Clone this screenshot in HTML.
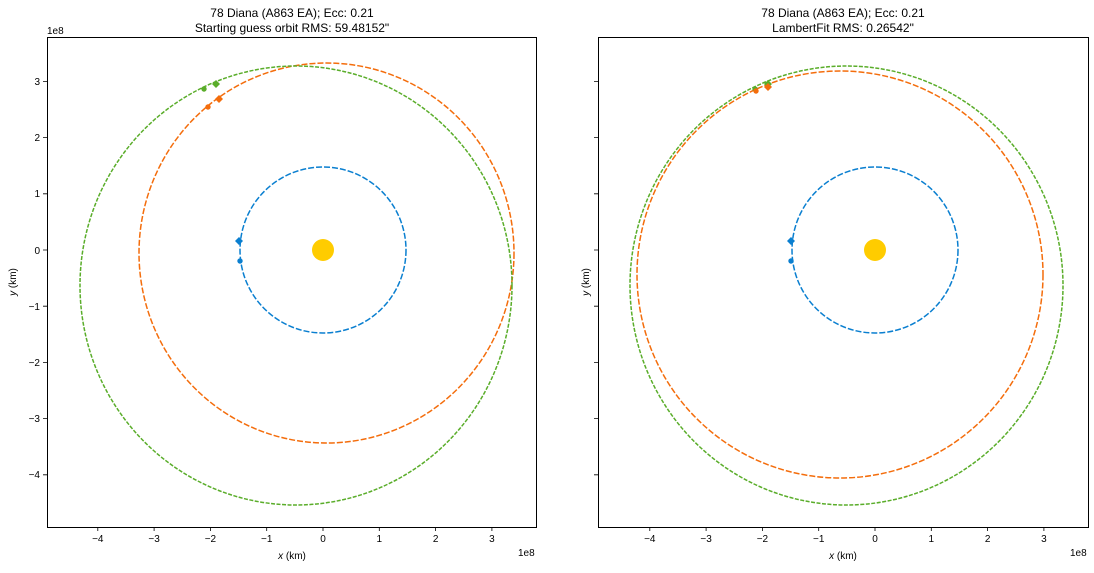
<!DOCTYPE html>
<html><head><meta charset="utf-8"><style>
html,body{margin:0;padding:0;background:#fff}
svg text{font-family:"Liberation Sans","DejaVu Sans",sans-serif;font-size:10px;fill:#000}
</style></head><body>
<svg width="1094" height="568" viewBox="0 0 1094 568" xmlns="http://www.w3.org/2000/svg">
<rect width="1094" height="568" fill="#fff"/>
<!-- LEFT -->
<g fill="none" stroke-width="1.5">
<ellipse cx="323" cy="250" rx="83" ry="83" stroke="#0a7fd0" stroke-dasharray="6,2"/>
<ellipse cx="326.5" cy="253" rx="187.5" ry="190" stroke="#f46d0c" stroke-dasharray="6,2"/>
<ellipse cx="296" cy="285.5" rx="216" ry="219.5" stroke="#5aad2a" stroke-dasharray="4,1.5"/>
</g>
<circle cx="323" cy="250" r="11" fill="#ffcc00"/>
<path d="M216,80 l4,4 l-4,4 l-4,-4z" fill="#5aad2a"/><circle cx="204" cy="89" r="2.7" fill="#5aad2a"/>
<path d="M219,95 l4,4 l-4,4 l-4,-4z" fill="#f46d0c"/><circle cx="208" cy="107" r="2.7" fill="#f46d0c"/>
<path d="M239,237 l4,4 l-4,4 l-4,-4z" fill="#0a7fd0"/><circle cx="240" cy="261" r="2.7" fill="#0a7fd0"/>
<rect x="47.5" y="37.5" width="489" height="490" fill="none" stroke="#000" stroke-width="1"/>
<g stroke="#000" stroke-width="0.8">
<path d="M97.8,527v4M154.1,527v4M210.4,527v4M266.7,527v4M323,527v4M379.3,527v4M435.6,527v4M491.9,527v4"/>
<path d="M47,81.4h-4M47,137.6h-4M47,193.8h-4M47,250h-4M47,306.2h-4M47,362.4h-4M47,418.6h-4M47,474.8h-4"/>
</g>
<g text-anchor="middle">
<text x="97.8" y="542">−4</text><text x="154.1" y="542">−3</text><text x="210.4" y="542">−2</text><text x="266.7" y="542">−1</text><text x="323" y="542">0</text><text x="379.3" y="542">1</text><text x="435.6" y="542">2</text><text x="491.9" y="542">3</text>
</g>
<g text-anchor="end">
<text x="40" y="85">3</text><text x="40" y="141">2</text><text x="40" y="197">1</text><text x="40" y="254">0</text><text x="40" y="310">−1</text><text x="40" y="366">−2</text><text x="40" y="422">−3</text><text x="40" y="478">−4</text>
</g>
<text x="47" y="34">1e8</text>
<text x="518" y="556">1e8</text>
<text x="292" y="559" text-anchor="middle"><tspan font-style="italic">x</tspan> (km)</text>
<text transform="translate(16,282) rotate(-90)" text-anchor="middle"><tspan font-style="italic">y</tspan> (km)</text>
<text x="292" y="17" text-anchor="middle" style="font-size:12px">78 Diana (A863 EA); Ecc: 0.21</text>
<text x="292" y="32" text-anchor="middle" style="font-size:12px">Starting guess orbit RMS: 59.48152"</text>
<!-- RIGHT -->
<g fill="none" stroke-width="1.5">
<ellipse cx="875" cy="250" rx="83" ry="83" stroke="#0a7fd0" stroke-dasharray="6,2"/>
<ellipse cx="840" cy="274.5" rx="203" ry="203.5" stroke="#f46d0c" stroke-dasharray="6,2"/>
<ellipse cx="846.5" cy="285.5" rx="216.5" ry="219.5" stroke="#5aad2a" stroke-dasharray="4,1.5"/>
</g>
<circle cx="875" cy="250" r="11" fill="#ffcc00"/>
<path d="M768,80 l4,4 l-4,4 l-4,-4z" fill="#5aad2a"/><circle cx="755" cy="89" r="2.7" fill="#5aad2a"/>
<path d="M768,83 l4,4 l-4,4 l-4,-4z" fill="#f46d0c"/><circle cx="756" cy="91" r="2.7" fill="#f46d0c"/>
<path d="M791,237 l4,4 l-4,4 l-4,-4z" fill="#0a7fd0"/><circle cx="791" cy="261" r="2.7" fill="#0a7fd0"/>
<rect x="598.5" y="37.5" width="490" height="490" fill="none" stroke="#000" stroke-width="1"/>
<g stroke="#000" stroke-width="0.8">
<path d="M649.8,527v4M706.1,527v4M762.4,527v4M818.7,527v4M875,527v4M931.3,527v4M987.6,527v4M1043.9,527v4"/>
<path d="M598,81.4h-4M598,137.6h-4M598,193.8h-4M598,250h-4M598,306.2h-4M598,362.4h-4M598,418.6h-4M598,474.8h-4"/>
</g>
<g text-anchor="middle">
<text x="649.8" y="542">−4</text><text x="706.1" y="542">−3</text><text x="762.4" y="542">−2</text><text x="818.7" y="542">−1</text><text x="875" y="542">0</text><text x="931.3" y="542">1</text><text x="987.6" y="542">2</text><text x="1043.9" y="542">3</text>
</g>
<text x="1070" y="556">1e8</text>
<text x="843" y="559" text-anchor="middle"><tspan font-style="italic">x</tspan> (km)</text>
<text transform="translate(589,282) rotate(-90)" text-anchor="middle"><tspan font-style="italic">y</tspan> (km)</text>
<text x="843" y="17" text-anchor="middle" style="font-size:12px">78 Diana (A863 EA); Ecc: 0.21</text>
<text x="843" y="32" text-anchor="middle" style="font-size:12px">LambertFit RMS: 0.26542"</text>
</svg>
</body></html>
